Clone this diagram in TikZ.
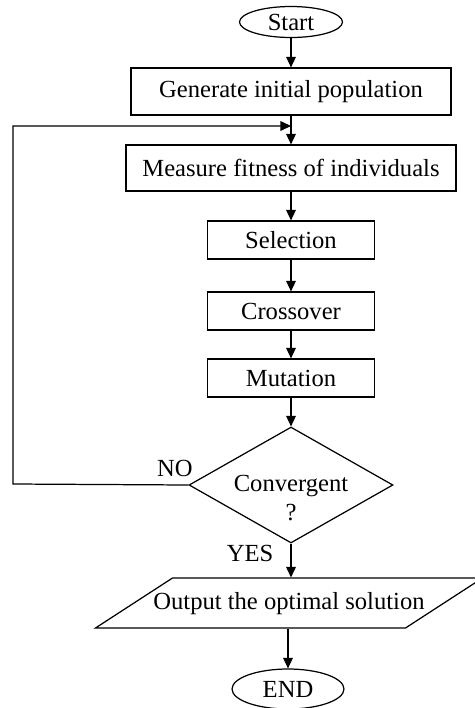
\documentclass[tikz,border=0pt]{standalone}
\usepackage{fontspec}
\setmainfont{Liberation Serif}
\usepackage{tikz}
\usetikzlibrary{positioning}
\usetikzlibrary{arrows,arrows.meta,shapes}
\usetikzlibrary{shapes.geometric}
\usetikzlibrary{calc}

\begin{document}
\begin{tikzpicture}[x=0.02cm, y=-0.02cm, font=\fontsize{14}{16}\selectfont,
  box/.style={draw, rectangle, line width=0.7pt, inner sep=0pt},
  term/.style={draw, ellipse, line width=0.7pt, inner sep=0pt},
  flow/.style={draw, line width=0.7pt, -{Triangle[length=6pt,width=5.5pt]}}]
 \useasboundingbox (0,0) rectangle (475,708);

 %start
 \node[term, minimum width=2.06cm, minimum height=0.62cm] (start) at (291,22) {Start};

 %boxes
 \node[box, minimum width=6.4cm, minimum height=0.94cm] (gen) at (291,91.5) {Generate initial population};
 \node[box, minimum width=6.6cm, minimum height=0.92cm] (meas) at (291,168) {Measure fitness of individuals};
 \node[box, minimum width=3.34cm, minimum height=0.76cm] (sel) at (291,240) {Selection};
 \node[box, minimum width=3.34cm, minimum height=0.76cm] (cross) at (291,311) {Crossover};
 \node[box, minimum width=3.34cm, minimum height=0.76cm] (mut) at (291,378) {Mutation};

 %decision
 \node[draw, diamond, line width=0.7pt, inner sep=0pt, minimum width=4.08cm, minimum height=2.32cm] (conv) at (291,485) {};
 \node[align=center] (convtxt) at (291,498) {Convergent\\?};

 %output
 \node[draw, trapezium, trapezium left angle=33, trapezium right angle=147,
   line width=0.7pt, inner xsep=-0.38cm, inner ysep=0.27cm, text height=10pt, text depth=3pt]
   (out) at (289,603) {Output the optimal solution};

 %end
 \node[term, minimum width=2.24cm, minimum height=0.8cm] (stop) at (288,689) {END};

 %join points
 \coordinate (join) at (291,126);
 \coordinate (loop) at (13,484);

 %lines
 \path[flow] (start.south) -- (gen.north);
 \path[draw, line width=0.7pt] (gen.south) -- (join);
 \path[flow] (join) -- (meas.north);
 \path[flow] (meas.south) -- (sel.north);
 \path[flow] (sel.south) -- (cross.north);
 \path[flow] (cross.south) -- (mut.north);
 \path[flow] (mut.south) -- (conv.north);
 \path[flow] (conv.south) -- (out.north -| conv.south);
 \path[flow] (out.south -| stop.north) -- (stop.north);
 \path[flow] (conv.west) -- (loop) |- (join);

 %labels
 \node[ ] (no) at (175,468) {NO};
 \node[ ] (yes) at (250,553) {YES};

\end{tikzpicture}
\end{document}
